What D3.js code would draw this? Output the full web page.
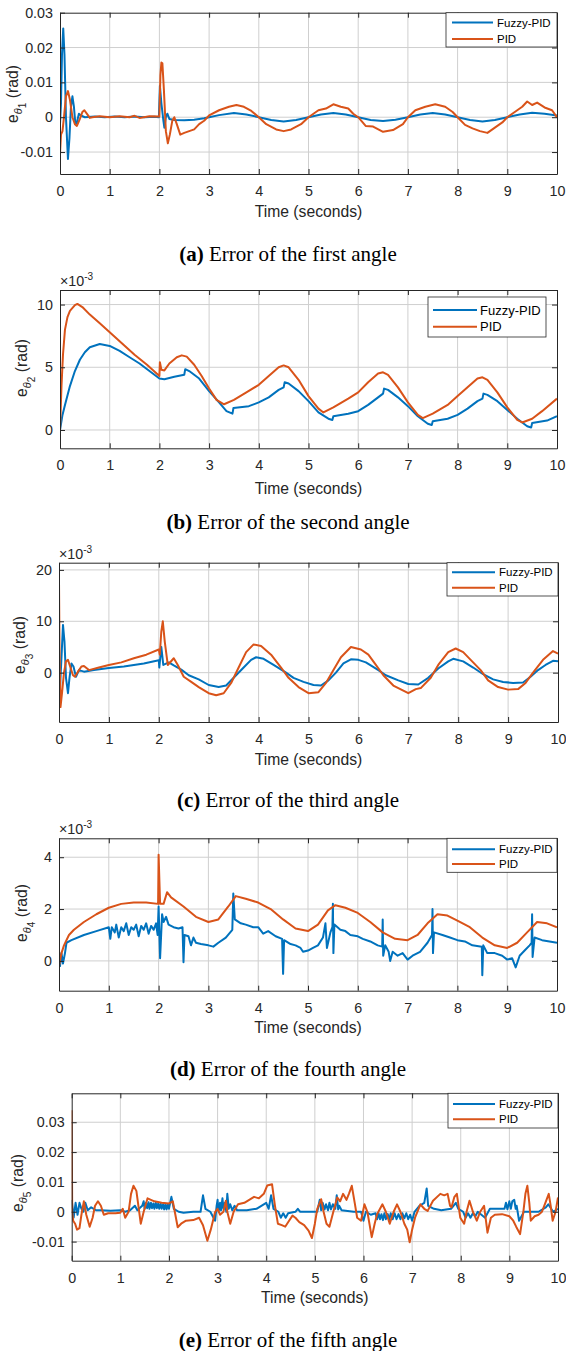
<!DOCTYPE html>
<html>
<head>
<meta charset="utf-8">
<script src="https://cdn.jsdelivr.net/npm/d3@7"></script>
<style>
  body { margin: 0; background: #fff; }
  text { font-family: "Liberation Sans", Arial, sans-serif; fill: #262626; }
  .caption { font-family: "Liberation Serif", "Times New Roman", serif; fill: #000; }
</style>
</head>
<body>
<div id="chart"></div>
<script>
// ---- data ----
const seriesNames = ["Fuzzy-PID", "PID"];
const timeTicks = [0, 1, 2, 3, 4, 5, 6, 7, 8, 9, 10];
const timeTickLabels = ["0", "1", "2", "3", "4", "5", "6", "7", "8", "9", "10"];
const captionLetters = ["(a)", "(b)", "(c)", "(d)", "(e)"];
const captionTexts = [" Error of the first angle", " Error of the second angle", " Error of the third angle",
  " Error of the fourth angle", " Error of the fifth angle"];
const angleIndex = ["1", "2", "3", "4", "5"];

const yTicksA = [-0.01, 0, 0.01, 0.02, 0.03];
const yTickLabelsA = ["-0.01", "0", "0.01", "0.02", "0.03"];
const yTicksB = [0, 5, 10];
const yTickLabelsB = ["0", "5", "10"];
const yTicksC = [0, 10, 20];
const yTickLabelsC = ["0", "10", "20"];
const yTicksD = [0, 2, 4];
const yTickLabelsD = ["0", "2", "4"];
const yTicksE = [-0.01, 0, 0.01, 0.02, 0.03];
const yTickLabelsE = ["-0.01", "0", "0.01", "0.02", "0.03"];

// (a) rad
const fuzzyA = [[0,-0.002],[0.02,0.004],[0.04,0.018],[0.065,0.0255],[0.09,0.018],[0.12,0.0],[0.16,-0.012],[0.19,-0.006],
  [0.22,0.003],[0.25,0.006],[0.28,0.003],[0.31,-0.002],[0.34,-0.0015],[0.38,0.001],[0.42,0.0005],[0.5,0.0],[0.7,0.0002],
  [0.9,0.0],[1.1,0.0002],[1.3,0.0],[1.5,0.0002],[1.7,0.0],[1.9,0.0001],[1.99,0.0],[2.01,0.009],[2.04,0.004],[2.08,-0.001],
  [2.1,-0.003],[2.13,0.0],[2.16,0.001],[2.2,-0.0005],[2.3,-0.0008],[2.5,-0.0009],[2.7,-0.0007],[2.9,-0.0003],[3.0,0.0],
  [3.2,0.0006],[3.5,0.0012],[3.75,0.0008],[4.0,0.0],[4.25,-0.0008],[4.5,-0.0012],[4.75,-0.0008],[5.0,0.0],[5.25,0.0008],
  [5.5,0.0012],[5.75,0.0008],[6.0,0.0],[6.25,-0.0008],[6.5,-0.0011],[6.75,-0.0007],[7.0,0.0],[7.25,0.0008],[7.5,0.0012],
  [7.75,0.0008],[8.0,0.0],[8.25,-0.0008],[8.5,-0.0012],[8.75,-0.0008],[9.0,0.0],[9.25,0.0008],[9.5,0.0013],[9.75,0.001],[10,0.0005]];
const pidA = [[0,-0.0105],[0.02,-0.005],[0.05,-0.004],[0.08,0.0],[0.12,0.006],[0.16,0.0075],[0.2,0.005],[0.25,0.0],
  [0.3,-0.002],[0.34,-0.0025],[0.4,-0.0005],[0.45,0.0015],[0.49,0.002],[0.55,0.0008],[0.6,-0.0002],[0.65,0.0],[0.8,0.0003],
  [1.0,0.0],[1.2,0.0003],[1.4,0.0],[1.5,0.0004],[1.6,-0.0002],[1.8,0.0003],[2.0,0.0002],[2.02,0.012],[2.04,0.0157],
  [2.06,0.0155],[2.09,0.008],[2.13,-0.004],[2.17,-0.0075],[2.21,-0.005],[2.26,-0.001],[2.3,0.0],[2.35,-0.002],[2.42,-0.005],
  [2.5,-0.0045],[2.6,-0.004],[2.7,-0.0035],[2.8,-0.002],[2.9,-0.001],[3.0,0.0005],[3.2,0.002],[3.4,0.003],[3.55,0.0035],
  [3.7,0.003],[3.85,0.0018],[4.0,0.0],[4.15,-0.002],[4.35,-0.0035],[4.5,-0.004],[4.65,-0.0035],[4.85,-0.002],[5.0,0.0],
  [5.2,0.002],[5.35,0.0025],[5.5,0.0037],[5.65,0.003],[5.8,0.0025],[5.9,0.001],[6.0,0.0],[6.15,-0.0025],[6.3,-0.0027],
  [6.5,-0.0042],[6.7,-0.0037],[6.9,-0.002],[7.0,0.0],[7.15,0.002],[7.35,0.003],[7.55,0.0037],[7.75,0.003],[7.9,0.0015],
  [8.0,0.0],[8.15,-0.0022],[8.3,-0.0032],[8.45,-0.004],[8.6,-0.0045],[8.75,-0.003],[8.9,-0.0015],[9.0,0.0],[9.15,0.0015],
  [9.3,0.003],[9.4,0.0045],[9.5,0.0035],[9.6,0.0042],[9.75,0.0028],[9.9,0.002],[10,0.0]];

// (b) x10^-3 rad
const fuzzyB = [[0,0],[0.05,1.2],[0.1,2.0],[0.2,3.5],[0.3,4.7],[0.4,5.6],[0.5,6.2],[0.6,6.6],[0.8,6.85],[1.0,6.7],
  [1.2,6.3],[1.4,5.8],[1.6,5.3],[1.8,4.7],[2.0,4.1],[2.1,4.05],[2.3,4.25],[2.5,4.4],[2.52,4.85],[2.6,4.7],[2.8,4.1],
  [3.0,3.1],[3.2,2.2],[3.35,1.5],[3.47,1.3],[3.49,1.75],[3.8,1.9],[4.0,2.2],[4.2,2.6],[4.4,3.2],[4.5,3.4],[4.52,3.8],
  [4.6,3.7],[4.8,3.1],[5.0,2.3],[5.2,1.4],[5.4,0.9],[5.48,0.8],[5.5,1.1],[5.8,1.3],[6.0,1.5],[6.2,2.0],[6.4,2.6],[6.5,2.9],
  [6.52,3.3],[6.6,3.2],[6.8,2.6],[7.0,1.9],[7.2,1.1],[7.4,0.5],[7.48,0.4],[7.5,0.7],[7.8,0.9],[8.0,1.2],[8.2,1.7],[8.4,2.3],
  [8.5,2.5],[8.52,2.9],[8.6,2.8],[8.8,2.3],[9.0,1.6],[9.2,0.9],[9.4,0.3],[9.48,0.2],[9.5,0.55],[9.8,0.75],[10,1.1]];
const pidB = [[0,0],[0.03,3.5],[0.06,6.0],[0.1,8.0],[0.15,9.0],[0.2,9.5],[0.3,9.95],[0.35,10.05],[0.45,9.8],[0.6,9.2],
  [0.8,8.5],[1.0,7.8],[1.25,6.9],[1.5,6.0],[1.75,5.2],[2.0,4.3],[2.01,5.4],[2.04,4.8],[2.1,4.75],[2.2,5.3],[2.35,5.8],
  [2.45,5.95],[2.55,5.85],[2.7,5.2],[2.85,4.3],[3.0,3.3],[3.15,2.4],[3.3,2.05],[3.5,2.4],[3.75,3.0],[4.0,3.6],[4.2,4.3],
  [4.4,5.0],[4.5,5.15],[4.6,5.0],[4.8,4.0],[5.0,2.7],[5.2,1.7],[5.3,1.4],[5.5,1.8],[5.8,2.5],[6.0,3.0],[6.2,3.8],[6.4,4.5],
  [6.5,4.6],[6.6,4.4],[6.8,3.4],[7.0,2.2],[7.2,1.2],[7.3,0.95],[7.5,1.3],[7.8,2.0],[8.0,2.7],[8.2,3.4],[8.4,4.1],[8.5,4.2],
  [8.6,4.0],[8.8,3.0],[9.0,1.8],[9.2,0.8],[9.3,0.6],[9.5,0.9],[9.7,1.5],[10,2.5]];

// (c) x10^-3 rad
const fuzzyC = [[0,0],[0.02,-3],[0.05,3],[0.08,9.3],[0.11,6],[0.14,-1],[0.18,-4],[0.21,-1],[0.25,1.8],[0.29,1.2],
  [0.34,-0.8],[0.4,0.5],[0.5,0.2],[0.7,0.5],[1.0,0.9],[1.3,1.2],[1.5,1.5],[1.7,1.8],[2.0,2.4],[2.01,1.0],[2.05,5.0],
  [2.09,1.5],[2.2,2.0],[2.3,1.4],[2.45,0.6],[2.6,-0.5],[2.8,-1.3],[3.0,-2.4],[3.2,-2.8],[3.35,-2.5],[3.5,-1.0],[3.7,1.0],
  [3.85,2.5],[3.95,3.0],[4.1,2.7],[4.3,1.5],[4.55,0.0],[4.7,-1.0],[4.9,-1.8],[5.1,-2.4],[5.25,-2.5],[5.4,-1.5],[5.55,0.0],
  [5.7,1.8],[5.85,2.6],[6.0,2.5],[6.15,2.0],[6.4,0.5],[6.55,-0.5],[6.8,-1.5],[7.0,-2.2],[7.2,-2.3],[7.4,-1.0],[7.6,0.8],
  [7.8,2.2],[7.9,2.7],[8.1,2.2],[8.3,1.0],[8.5,-0.3],[8.7,-1.3],[8.9,-1.8],[9.1,-2.0],[9.3,-1.9],[9.45,-0.8],[9.6,0.5],
  [9.75,1.5],[9.9,2.3],[10,2.2]];
const pidC = [[0,18],[0.01,5],[0.03,-6.7],[0.06,-4],[0.1,0],[0.14,2.2],[0.18,2.5],[0.23,1.0],[0.28,-0.5],[0.32,-0.8],
  [0.38,0.2],[0.45,1.2],[0.5,1.3],[0.6,0.5],[0.8,1.0],[1.0,1.5],[1.25,2.0],[1.5,2.8],[1.75,3.5],[2.0,4.5],[2.02,3.5],
  [2.05,8.0],[2.08,10],[2.12,6],[2.18,1.5],[2.3,2.8],[2.38,1.5],[2.5,-0.8],[2.65,-1.8],[2.8,-2.8],[3.0,-4.0],[3.15,-4.4],
  [3.3,-4.0],[3.45,-2.0],[3.6,1.0],[3.75,4.0],[3.9,5.5],[4.05,5.2],[4.25,3.5],[4.45,1.0],[4.6,-1.0],[4.8,-2.8],[5.0,-4.0],
  [5.2,-3.8],[5.35,-2.0],[5.5,0.5],[5.65,3.0],[5.85,5.0],[6.05,4.5],[6.2,3.5],[6.35,1.5],[6.5,-0.5],[6.7,-2.5],[6.9,-3.5],
  [7.0,-4.0],[7.15,-3.2],[7.25,-3.0],[7.45,-1.0],[7.6,1.5],[7.8,4.0],[7.95,4.7],[8.1,4.0],[8.25,2.5],[8.45,0.5],[8.6,-1.5],
  [8.8,-2.8],[9.0,-3.3],[9.2,-3.2],[9.35,-2.0],[9.5,0.0],[9.7,2.5],[9.9,4.2],[10,3.7]];

// (d) x10^-3 rad
const fuzzyD = [[0,0.4],[0.02,-0.2],[0.05,0.3],[0.08,-0.1],[0.12,0.3],[0.15,0.7],[0.25,0.8],[0.5,1.0],[0.75,1.15],
  [1.0,1.3],[1.03,0.85],[1.06,1.3],[1.12,1.1],[1.15,1.4],[1.2,0.9],[1.25,1.3],[1.3,1.15],[1.35,1.45],[1.4,1.0],[1.45,1.3],
  [1.5,1.2],[1.55,1.4],[1.6,0.95],[1.65,1.35],[1.7,1.2],[1.75,1.45],[1.8,1.05],[1.85,1.35],[1.9,1.2],[1.95,1.45],[1.98,1.0],
  [2.0,2.1],[2.03,0.1],[2.07,1.8],[2.1,1.5],[2.15,1.7],[2.2,1.4],[2.3,1.3],[2.4,1.25],[2.48,1.3],[2.5,-0.05],[2.52,1.0],
  [2.6,0.95],[2.65,0.6],[2.7,0.9],[2.75,0.7],[2.85,0.65],[3.0,0.6],[3.1,0.55],[3.2,0.7],[3.35,0.9],[3.48,1.2],[3.5,2.6],
  [3.53,1.6],[3.65,1.45],[3.75,1.4],[3.9,1.3],[4.0,1.3],[4.1,1.05],[4.2,1.15],[4.35,0.95],[4.48,0.85],[4.5,-0.5],[4.52,0.8],
  [4.65,0.65],[4.75,0.6],[4.85,0.5],[4.9,0.35],[5.0,0.4],[5.1,0.5],[5.2,0.6],[5.3,0.9],[5.35,1.45],[5.38,0.5],[5.45,1.1],
  [5.49,1.3],[5.5,2.2],[5.51,0.3],[5.53,1.4],[5.65,1.2],[5.75,1.15],[5.85,1.0],[6.0,0.95],[6.1,0.85],[6.25,0.75],[6.4,0.6],
  [6.49,0.55],[6.5,1.6],[6.51,0.2],[6.55,0.6],[6.62,0.35],[6.65,0.0],[6.7,0.35],[6.8,0.2],[6.9,0.3],[7.0,0.05],[7.1,0.2],
  [7.25,0.35],[7.4,0.7],[7.49,1.0],[7.5,2.0],[7.51,0.3],[7.53,1.1],[7.7,1.0],[7.85,0.9],[8.0,0.8],[8.15,0.75],[8.3,0.6],
  [8.49,0.55],[8.5,-0.55],[8.52,0.6],[8.6,0.3],[8.75,0.3],[8.9,0.2],[9.0,0.05],[9.1,0.1],[9.17,-0.25],[9.25,0.2],[9.35,0.4],
  [9.45,0.6],[9.49,0.7],[9.5,1.8],[9.51,0.15],[9.55,0.9],[9.7,0.8],[9.85,0.75],[10,0.7]];
const pidD = [[0,-0.2],[0.05,0.3],[0.1,0.6],[0.2,1.0],[0.3,1.2],[0.5,1.5],[0.75,1.8],[1.0,2.05],[1.25,2.2],[1.5,2.25],
  [1.75,2.25],[1.99,2.2],[2.0,4.1],[2.03,2.2],[2.1,2.2],[2.17,2.65],[2.25,2.45],[2.5,2.1],[2.75,1.7],[3.0,1.5],[3.2,1.6],
  [3.4,2.1],[3.55,2.5],[3.75,2.4],[4.0,2.25],[4.25,2.0],[4.5,1.6],[4.75,1.25],[5.0,1.15],[5.2,1.4],[5.4,1.95],[5.55,2.15],
  [5.75,2.05],[6.0,1.85],[6.25,1.5],[6.5,1.1],[6.75,0.85],[7.0,0.8],[7.2,1.0],[7.4,1.45],[7.6,1.8],[7.8,1.75],[8.0,1.55],
  [8.25,1.3],[8.5,0.9],[8.75,0.6],[9.0,0.5],[9.2,0.7],[9.4,1.1],[9.6,1.5],[9.8,1.45],[10,1.3]];

// (e) rad
const fuzzyE = [[0,0.004],[0.04,-0.002],[0.08,0.003],[0.12,-0.001],[0.16,0.003],[0.2,0.001],[0.24,0.0],[0.28,0.003],
  [0.33,0.0005],[0.4,0.0015],[0.5,0.0005],[0.6,0.0005],[0.8,0.0003],[1.0,0.0005],[1.1,0.0],[1.2,0.0005],[1.3,0.002],
  [1.35,0.0005],[1.45,0.002],[1.48,0.0035],[1.5,0.001],[1.53,0.003],[1.55,0.0012],[1.58,0.0032],[1.6,0.001],[1.63,0.003],
  [1.65,0.0012],[1.68,0.0028],[1.7,0.001],[1.73,0.003],[1.75,0.0012],[1.78,0.0028],[1.8,0.001],[1.83,0.0027],[1.85,0.001],
  [1.88,0.0025],[1.9,0.0008],[1.93,0.0025],[1.95,0.0008],[1.98,0.0025],[2.0,0.001],[2.05,0.005],[2.1,0.001],[2.2,0.0],
  [2.3,-0.0003],[2.5,0.0],[2.65,0.0],[2.7,0.0055],[2.75,0.001],[2.85,0.0],[2.95,-0.003],[2.98,0.002],[3.0,0.004],[3.02,0.0],
  [3.05,0.003],[3.07,0.0005],[3.1,0.0045],[3.12,0.001],[3.15,0.003],[3.18,0.0],[3.2,0.006],[3.23,0.001],[3.26,0.0025],
  [3.3,0.0005],[3.35,0.002],[3.4,0.0005],[3.6,0.0005],[3.8,0.001],[3.9,0.002],[4.0,0.003],[4.05,0.001],[4.1,0.0055],
  [4.15,0.001],[4.25,0.0],[4.3,-0.002],[4.35,-0.0005],[4.4,-0.002],[4.45,-0.0005],[4.6,0.0],[4.65,0.001],[4.7,0.0],
  [4.9,0.0],[5.05,0.0],[5.1,0.004],[5.13,0.0005],[5.16,0.003],[5.2,0.0008],[5.23,0.0025],[5.27,0.0005],[5.3,0.003],
  [5.33,0.0008],[5.37,0.0025],[5.42,0.001],[5.45,0.0055],[5.48,0.0008],[5.5,0.002],[5.55,0.0005],[5.8,0.0],[5.95,0.0],
  [6.0,-0.003],[6.05,0.0],[6.15,-0.001],[6.25,-0.0005],[6.28,-0.0025],[6.31,-0.0005],[6.34,-0.0025],[6.37,-0.0008],
  [6.4,-0.0028],[6.43,-0.0005],[6.46,-0.0025],[6.5,-0.0008],[6.53,-0.0028],[6.56,-0.0005],[6.6,-0.0025],[6.64,-0.0005],
  [6.68,-0.0025],[6.72,-0.0008],[6.76,-0.0025],[6.8,-0.0005],[6.84,-0.0022],[6.88,-0.0005],[6.92,-0.0025],[6.96,-0.001],
  [7.0,-0.003],[7.05,0.0],[7.15,0.002],[7.25,0.003],[7.3,0.0078],[7.33,0.002],[7.45,0.001],[7.6,0.0005],[7.8,0.001],
  [7.9,0.003],[7.95,0.001],[8.05,0.0],[8.1,-0.002],[8.15,-0.0005],[8.2,-0.002],[8.25,-0.0005],[8.3,-0.0015],[8.35,0.0],
  [8.5,-0.002],[8.6,0.001],[8.8,0.001],[8.9,0.001],[8.93,0.003],[8.96,0.0008],[9.0,0.0035],[9.03,0.001],[9.06,0.0035],
  [9.1,0.004],[9.13,0.001],[9.15,0.002],[9.2,-0.003],[9.3,0.0],[9.45,0.0],[9.6,0.0],[9.75,0.0015],[9.8,0.0025],
  [9.9,0.0],[10,0.001]];
const pidE = [[0,0.034],[0.01,0.0],[0.03,-0.003],[0.07,-0.004],[0.11,-0.006],[0.16,-0.0055],[0.2,-0.001],[0.25,0.0035],
  [0.3,-0.001],[0.37,-0.005],[0.43,-0.002],[0.48,0.002],[0.54,0.0035],[0.6,0.002],[0.66,-0.001],[0.75,-0.0005],
  [0.9,-0.0005],[1.0,-0.0003],[1.05,0.001],[1.1,-0.002],[1.17,0.0],[1.22,0.006],[1.27,0.0087],[1.33,0.007],[1.38,0.001],
  [1.42,-0.004],[1.48,0.0],[1.56,0.0045],[1.7,0.0035],[1.85,0.003],[2.0,0.0028],[2.08,0.0035],[2.12,0.0],[2.18,-0.0052],
  [2.25,-0.004],[2.35,-0.003],[2.5,-0.0028],[2.62,-0.002],[2.7,-0.0045],[2.79,-0.0097],[2.86,-0.006],[2.95,0.0],[3.0,0.001],
  [3.05,-0.001],[3.12,0.0],[3.17,0.0037],[3.2,0.0],[3.26,-0.004],[3.33,0.0],[3.42,0.0025],[3.55,0.003],[3.65,0.004],
  [3.75,0.005],[3.85,0.0045],[3.95,0.006],[4.02,0.0088],[4.12,0.0092],[4.18,0.002],[4.24,-0.004],[4.32,-0.0045],
  [4.39,-0.005],[4.47,-0.003],[4.54,-0.0013],[4.6,-0.002],[4.68,-0.0035],[4.78,-0.0045],[4.87,-0.0063],[4.94,-0.0088],
  [5.0,-0.004],[5.05,0.001],[5.13,0.0042],[5.18,0.0],[5.24,-0.004],[5.3,-0.005],[5.38,0.0],[5.46,0.0048],[5.52,0.0035],
  [5.58,0.006],[5.65,0.004],[5.7,0.006],[5.76,0.0087],[5.82,0.003],[5.87,-0.002],[5.95,-0.003],[6.02,0.0025],[6.08,0.0],
  [6.17,-0.0085],[6.23,-0.004],[6.28,-0.0008],[6.39,0.0025],[6.46,0.0],[6.54,-0.004],[6.62,0.0],[6.69,0.0025],[6.76,0.0],
  [6.84,-0.004],[6.9,-0.006],[6.95,-0.0102],[7.0,-0.006],[7.06,-0.002],[7.17,0.0025],[7.25,0.001],[7.32,0.0003],
  [7.43,0.0037],[7.58,0.006],[7.66,0.0055],[7.73,0.006],[7.78,0.002],[7.81,0.0015],[7.87,0.005],[7.92,0.006],[7.99,-0.002],
  [8.07,-0.004],[8.12,0.0],[8.18,0.0037],[8.25,0.0],[8.33,-0.003],[8.4,0.0],[8.48,0.002],[8.55,-0.007],[8.62,-0.002],
  [8.7,-0.001],[8.85,-0.0008],[9.0,-0.0015],[9.08,-0.003],[9.14,-0.005],[9.22,-0.0075],[9.29,0.0003],[9.33,0.006],
  [9.37,0.0087],[9.41,0.003],[9.44,-0.003],[9.52,-0.0015],[9.6,-0.001],[9.67,0.0],[9.74,0.003],[9.81,0.006],[9.85,0.002],
  [9.89,-0.003],[9.95,0.0],[10,0.0048]];

// ---- layout of the five panels ----
const panels = [
  { fuzzy: fuzzyA, pid: pidA, yTicks: yTicksA, yLabels: yTickLabelsA, yDomain: [-0.0163, 0.03], exp: false,
    left: 60, right: 557, top: 12.7, bottom: 174, ylabX: 17.5, ylabY: 94, timeY: 211.7, capY: 253.3,
    leg: { x0: 446, x1: 557, y0: 12.7, y1: 47, rows: [22.5, 39], l0: 452, l1: 493, tx: 497, fs: 11.5 } },
  { fuzzy: fuzzyB, pid: pidB, yTicks: yTicksB, yLabels: yTickLabelsB, yDomain: [-1.46, 11.16], exp: true,
    left: 60, right: 557, top: 290, bottom: 448.3, ylabX: 27, ylabY: 368, timeY: 489, capY: 522,
    leg: { x0: 428, x1: 546, y0: 297, y1: 337, rows: [310, 326.7], l0: 433, l1: 477, tx: 480, fs: 13 } },
  { fuzzy: fuzzyC, pid: pidC, yTicks: yTicksC, yLabels: yTickLabelsC, yDomain: [-9.6, 21.4], exp: true,
    left: 59, right: 558, top: 562.7, bottom: 722, ylabX: 25, ylabY: 645, timeY: 760, capY: 800,
    leg: { x0: 447, x1: 558, y0: 562.7, y1: 596, rows: [572.3, 587.7], l0: 452, l1: 495, tx: 499, fs: 11.5 } },
  { fuzzy: fuzzyD, pid: pidD, yTicks: yTicksD, yLabels: yTickLabelsD, yDomain: [-1.15, 4.73], exp: true,
    left: 59, right: 557, top: 838.3, bottom: 990.7, ylabX: 27, ylabY: 913, timeY: 1027.3, capY: 1068.3,
    leg: { x0: 447, x1: 557, y0: 838.3, y1: 872.3, rows: [849.3, 864], l0: 452, l1: 495, tx: 499, fs: 11.5 } },
  { fuzzy: fuzzyE, pid: pidE, yTicks: yTicksE, yLabels: yTickLabelsE, yDomain: [-0.0164, 0.0397], exp: false,
    left: 71.7, right: 558, top: 1093.3, bottom: 1260.7, ylabX: 23, ylabY: 1183, timeY: 1297.3, capY: 1340,
    leg: { x0: 448, x1: 558, y0: 1093.3, y1: 1128, rows: [1104, 1119.3], l0: 453, l1: 495, tx: 499, fs: 11.5 } }
];

const colors = ["#0072BD", "#D95319"];
const axisColor = "#262626";
const gridColor = "#cfcfcf";
const tickFont = "14.3px";

const svg = d3.select("#chart").append("svg")
  .attr("width", 566)
  .attr("height", 1351);

panels.forEach((p, i) => {
  const x = d3.scaleLinear().domain([0, 10]).range([p.left, p.right]);
  const y = d3.scaleLinear().domain(p.yDomain).range([p.bottom, p.top]);
  const g = svg.append("g");

  // grid
  g.append("g").selectAll("line")
    .data(timeTicks.slice(1, -1))
    .join("line")
    .attr("x1", d => x(d)).attr("x2", d => x(d))
    .attr("y1", p.top).attr("y2", p.bottom)
    .attr("stroke", gridColor).attr("stroke-width", 1);
  g.append("g").selectAll("line")
    .data(p.yTicks.filter(d => y(d) > p.top + 0.5))
    .join("line")
    .attr("x1", p.left).attr("x2", p.right)
    .attr("y1", d => y(d)).attr("y2", d => y(d))
    .attr("stroke", gridColor).attr("stroke-width", 1);

  // series
  const clipId = "clip" + i;
  g.append("clipPath").attr("id", clipId)
    .append("rect")
    .attr("x", p.left).attr("y", p.top)
    .attr("width", p.right - p.left).attr("height", p.bottom - p.top);
  const line = d3.line().x(d => x(d[0])).y(d => y(d[1]));
  [p.fuzzy, p.pid].forEach((s, k) => {
    g.append("path")
      .datum(s)
      .attr("clip-path", `url(#${clipId})`)
      .attr("fill", "none")
      .attr("stroke", colors[k])
      .attr("stroke-width", 2)
      .attr("stroke-linejoin", "round")
      .attr("d", line);
  });

  // axes (ticks inward, box on)
  const fmtX = (d, j) => timeTickLabels[j];
  const fmtY = (d, j) => p.yLabels[j];
  const ax = [
    g.append("g").attr("transform", `translate(0,${p.bottom})`)
      .call(d3.axisBottom(x).tickValues(timeTicks).tickFormat(fmtX).tickSizeInner(-5).tickSizeOuter(0).tickPadding(12)),
    g.append("g").attr("transform", `translate(0,${p.top})`)
      .call(d3.axisTop(x).tickValues(timeTicks).tickFormat("").tickSizeInner(-5).tickSizeOuter(0)),
    g.append("g").attr("transform", `translate(${p.left},0)`)
      .call(d3.axisLeft(y).tickValues(p.yTicks).tickFormat(fmtY).tickSizeInner(-5).tickSizeOuter(0).tickPadding(7)),
    g.append("g").attr("transform", `translate(${p.right},0)`)
      .call(d3.axisRight(y).tickValues(p.yTicks).tickFormat("").tickSizeInner(-5).tickSizeOuter(0))
  ];
  ax.forEach(a => {
    a.selectAll("path.domain").attr("stroke", axisColor).attr("stroke-width", 1);
    a.selectAll(".tick line").attr("stroke", axisColor);
    a.selectAll(".tick text").attr("fill", axisColor).style("font-size", tickFont)
      .style("font-family", '"Liberation Sans", Arial, sans-serif');
  });

  // exponent label
  if (p.exp) {
    const t = g.append("text").attr("x", p.left).attr("y", p.top - 4).style("font-size", tickFont);
    t.append("tspan").text("\u00d710");
    t.append("tspan").attr("dy", -6).style("font-size", "10px").text("-3");
  }

  // y label e_{theta_i} (rad)
  const yl = g.append("text")
    .attr("transform", `translate(${p.ylabX},${p.ylabY}) rotate(-90)`)
    .attr("text-anchor", "middle")
    .style("font-size", "15.7px")
    .style("white-space", "pre");
  yl.append("tspan").text("e");
  yl.append("tspan").attr("dy", 4).style("font-size", "11px").style("font-style", "italic").text("\u03b8");
  yl.append("tspan").attr("dy", 4).style("font-size", "10px").text(angleIndex[i]);
  yl.append("tspan").attr("dy", -8).text(" (rad)");

  // x label
  g.append("text")
    .attr("x", (p.left + p.right) / 2).attr("y", p.timeY).attr("dy", "0.35em")
    .attr("text-anchor", "middle")
    .style("font-size", "15.7px")
    .text("Time (seconds)");

  // legend
  const L = p.leg;
  g.append("rect")
    .attr("x", L.x0).attr("y", L.y0)
    .attr("width", L.x1 - L.x0).attr("height", L.y1 - L.y0)
    .attr("fill", "#fff").attr("stroke", axisColor).attr("stroke-width", 0.8);
  seriesNames.forEach((name, k) => {
    g.append("line")
      .attr("x1", L.l0).attr("x2", L.l1)
      .attr("y1", L.rows[k]).attr("y2", L.rows[k])
      .attr("stroke", colors[k]).attr("stroke-width", 2);
    g.append("text")
      .attr("x", L.tx).attr("y", L.rows[k]).attr("dy", "0.35em")
      .style("fill", "#000")
      .style("font-size", L.fs + "px")
      .text(name);
  });

  // caption
  const cap = g.append("text")
    .attr("class", "caption")
    .attr("x", 288).attr("y", p.capY).attr("dy", "0.35em")
    .attr("text-anchor", "middle")
    .style("font-size", "21px")
    .style("white-space", "pre");
  cap.append("tspan").style("font-weight", "bold").text(captionLetters[i]);
  cap.append("tspan").text(captionTexts[i]);
});
</script>
</body>
</html>
